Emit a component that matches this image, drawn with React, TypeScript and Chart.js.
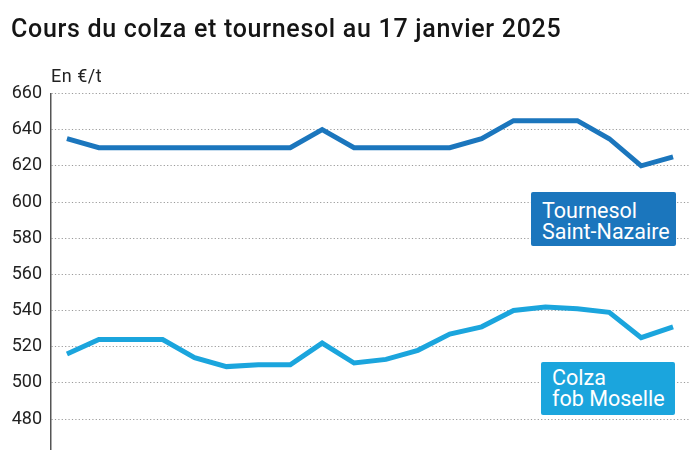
import React, { useEffect, useRef } from "react";
import { Chart, registerables } from "chart.js";

Chart.register(...registerables);

const periods: string[] = [
  "S1", "S2", "S3", "S4", "S5", "S6", "S7", "S8", "S9", "S10",
  "S11", "S12", "S13", "S14", "S15", "S16", "S17", "S18", "S19", "S20",
];
const tournesol: number[] = [
  635, 630, 630, 630, 630, 630, 630, 630, 640, 630,
  630, 630, 630, 635, 645, 645, 645, 635, 620, 625,
];
const colza: number[] = [
  516, 524, 524, 524, 514, 509, 510, 510, 522, 511,
  513, 518, 527, 531, 540, 542, 541, 539, 525, 531,
];
const yTicks: number[] = [480, 500, 520, 540, 560, 580, 600, 620, 640, 660];

const TITLE = "Cours du colza et tournesol au 17 janvier 2025";
const UNIT = "En €/t";
const LABEL_TOURNESOL = ["Tournesol", "Saint-Nazaire"];
const LABEL_COLZA = ["Colza", "fob Moselle"];

const C_TOURNESOL = "#1b76bd";
const C_COLZA = "#1ba5dd";
const FONT = "Roboto, 'Noto Sans', sans-serif";

export default function App() {
  const ref = useRef<HTMLCanvasElement | null>(null);

  useEffect(() => {
    if (!ref.current) return;
    const chart = new Chart(ref.current, {
      type: "line",
      data: {
        labels: periods,
        datasets: [
          {
            label: "Tournesol Saint-Nazaire",
            data: tournesol,
            borderColor: C_TOURNESOL,
            borderWidth: 5,
            pointRadius: 0,
            tension: 0,
          },
          {
            label: "Colza fob Moselle",
            data: colza,
            borderColor: C_COLZA,
            borderWidth: 5,
            pointRadius: 0,
            tension: 0,
          },
        ],
      },
      options: {
        animation: false,
        responsive: false,
        maintainAspectRatio: false,
        layout: { padding: { left: 0, top: 93.5, right: 11, bottom: 0 } },
        plugins: {
          legend: { display: false },
          tooltip: { enabled: false },
          title: { display: false },
        },
        scales: {
          x: {
            type: "category",
            offset: true,
            display: false,
            afterFit: (scale: any) => {
              scale.height = 0;
              scale.paddingLeft = 0;
              scale.paddingRight = 0;
            },
          },
          y: {
            min: 462.9,
            max: 660,
            afterBuildTicks: (scale: any) => {
              scale.ticks = yTicks.map((v) => ({ value: v }));
            },
            afterFit: (scale: any) => {
              scale.width = 51;
              scale.paddingTop = 0;
              scale.paddingBottom = 0;
            },
            grid: {
              color: "#9a9a9a",
              lineWidth: 1,
              drawTicks: false,
            },
            border: {
              display: true,
              color: "#555555",
              width: 1.5,
              dash: [1.2, 2.2],
            },
            ticks: {
              padding: 9,
              color: "#222222",
              font: { family: FONT, size: 18 },
            },
          },
        },
      },
    });
    return () => chart.destroy();
  }, []);

  const boxStyle = (bg: string, left: number, top: number, width: number, height: number, padTop: number): React.CSSProperties => ({
    position: "absolute",
    left,
    top,
    width,
    height,
    background: bg,
    borderRadius: 2,
    color: "#ffffff",
    fontFamily: FONT,
    fontSize: 21.5,
    lineHeight: "21px",
    padding: `${padTop}px 0 0 11px`,
    boxSizing: "border-box",
    whiteSpace: "nowrap",
  });

  return (
    <div style={{ position: "relative", width: 700, height: 450, background: "#ffffff", overflow: "hidden" }}>
      <style>{`body{margin:0;}`}</style>
      <canvas ref={ref} width={700} height={450} style={{ position: "absolute", left: 0, top: 0 }} />
      <div
        style={{
          position: "absolute",
          left: 11,
          top: 16,
          fontFamily: FONT,
          fontWeight: 500,
          fontSize: 25,
          letterSpacing: "0.7px",
          lineHeight: "26px",
          color: "#151515",
          whiteSpace: "nowrap",
        }}
      >
        {TITLE}
      </div>
      <div
        style={{
          position: "absolute",
          left: 51,
          top: 66,
          fontFamily: FONT,
          fontSize: 18,
          letterSpacing: "0.5px",
          lineHeight: "20px",
          color: "#222222",
          whiteSpace: "nowrap",
        }}
      >
        {UNIT}
      </div>
      <div style={boxStyle(C_TOURNESOL, 531, 192, 145, 54, 8)}>
        {LABEL_TOURNESOL.map((t) => (
          <div key={t}>{t}</div>
        ))}
      </div>
      <div style={boxStyle(C_COLZA, 541, 362, 134, 53, 5)}>
        {LABEL_COLZA.map((t) => (
          <div key={t}>{t}</div>
        ))}
      </div>
    </div>
  );
}
